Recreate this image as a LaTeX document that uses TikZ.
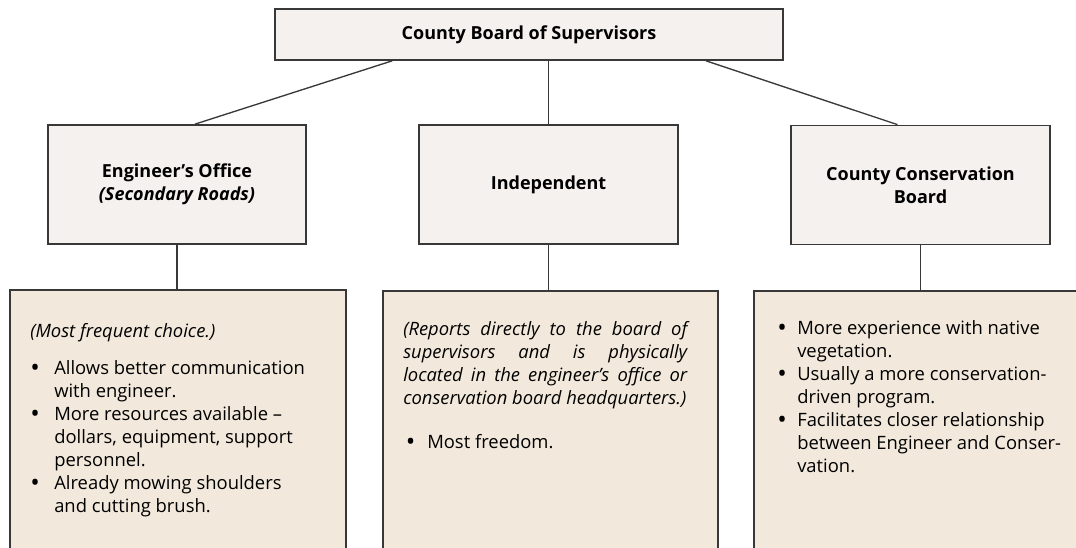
\documentclass[tikz,border=0pt]{standalone}
\usepackage{fontspec}
\setmainfont{Open Sans}
\usetikzlibrary{calc}
\definecolor{toptint}{HTML}{F5F1EE}
\definecolor{lowtint}{HTML}{F2E9DC}
\definecolor{edgegray}{HTML}{383838}
\newcommand{\chartfont}{\fontsize{13.8}{17.25}\selectfont}
\newcommand{\headfont}{\fontsize{13.5}{17.25}\selectfont\bfseries}
\newcommand{\blt}[1]{\makebox[#1][l]{\raisebox{-1.5pt}{\fontsize{19}{19}\selectfont\textbullet}}}
\newcommand{\ind}[1]{\hspace*{#1}}
\newcommand{\jline}[1]{\makebox[213pt][s]{\itshape #1}}
\begin{document}
\begin{tikzpicture}
        [
            x=0.75pt, y=-0.75pt,
            headbox/.style={draw=edgegray, line width=1.3pt, fill=toptint, font=\headfont, align=center, inner sep=0pt},
            notebox/.style={draw=edgegray, line width=1.3pt, fill=lowtint, anchor=north west, minimum height=240pt, inner sep=0pt},
            notetext/.style={anchor=north west, align=left, inner sep=0pt, font=\chartfont},
            link/.style={draw=edgegray, line width=1pt}
        ]
        \useasboundingbox (0,0) rectangle (1076,548);
        \clip (0,0) rectangle (1076,548);
        % board
        \node[headbox, minimum width=381pt, minimum height=38.25pt] (board) at (529,34.5) {County Board of Supervisors};
        % three options
        \node[headbox, minimum width=193.5pt, minimum height=89.25pt] (eng) at (177,184.5) {Engineer’s Office\\\textit{(Secondary Roads)}};
        \node[headbox, minimum width=194.25pt, minimum height=89.25pt] (ind) at (548.5,184.5) {Independent};
        \node[headbox, minimum width=194.25pt, minimum height=89.25pt] (cons) at (920.5,185) {County Conservation\\Board};
        % notes
        \node[notebox, minimum width=252pt] (engbox) at (9,289) {};
        \node[notebox, minimum width=251.25pt] (indbox) at (382,290) {};
        \node[notebox, minimum width=262.5pt] (consbox) at (753,290) {};
        % links
        \draw[link] ($(board.south west)+(118,0)$) -- ($(eng.north)+(18,0)$);
        \draw[link] (board.south -| ind.north) -- (ind.north);
        \draw[link] ($(board.south west)+(432,0)$) -- ($(cons.north)+(-23,0)$);
        \draw[link] (eng.south) -- (engbox.north -| eng.south);
        \draw[link] (ind.south) -- (indbox.north -| ind.south);
        \draw[link] (cons.south) -- (consbox.north -| cons.south);
        % note texts
        \node[notetext] (engtxt) at (30,323) {\textit{(Most frequent choice.)}\\[10.5pt]
            \blt{18pt}Allows better communication\\
            \ind{18pt}with engineer.\\
            \blt{18pt}More resources available –\\
            \ind{18pt}dollars, equipment, support\\
            \ind{18pt}personnel.\\
            \blt{18pt}Already mowing shoulders\\
            \ind{18pt}and cutting brush.};
        \node[notetext] (indtxt) at (403,321) {\jline{(Reports directly to the board of}\\
            \jline{supervisors and is physically}\\
            \jline{located in the engineer’s office or}\\
            \textit{conservation board headquarters.)}\\[15.75pt]
            \hspace*{2pt}\blt{16pt}Most freedom.};
        \node[notetext] (constxt) at (777,320) {\blt{15pt}More experience with native\\
            \ind{15pt}vegetation.\\
            \blt{15pt}Usually a more conservation-\\
            \ind{15pt}driven program.\\
            \blt{15pt}Facilitates closer relationship\\
            \ind{15pt}between Engineer and Conser-\\
            \ind{15pt}vation.};
    \end{tikzpicture}
\end{document}
